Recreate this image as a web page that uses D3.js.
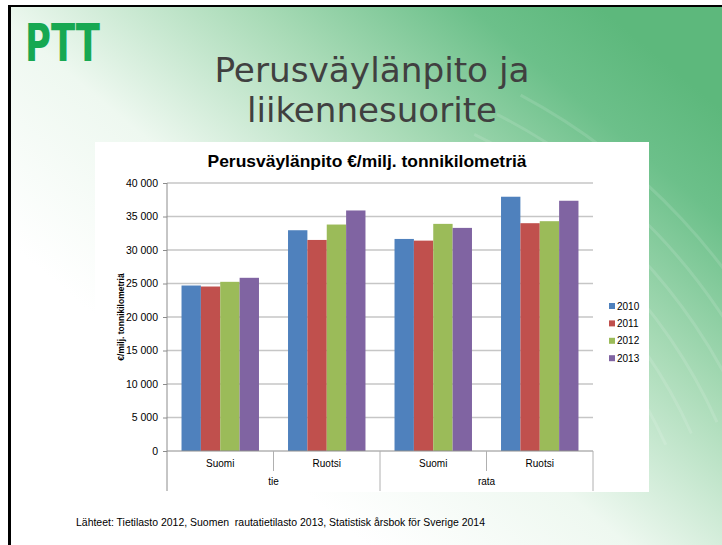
<!DOCTYPE html>
<html>
<head>
<meta charset="utf-8">
<script src="https://cdn.jsdelivr.net/npm/d3@7"></script>
<style>
    body { margin: 0; background: #fff; }
    svg { display: block; }
    text { font-family: "Liberation Sans", Arial, sans-serif; }
</style>
</head>
<body>
<div id="slide"></div>
<script>
// Chart data
const years = ['2010', '2011', '2012', '2013']
const modes = ['tie', 'rata']
const countries = ['Suomi', 'Ruotsi']
const values2010 = [24700, 32950, 31650, 37950]
const values2011 = [24550, 31500, 31400, 34000]
const values2012 = [25250, 33800, 33900, 34300]
const values2013 = [25850, 35900, 33300, 37350]
const yTicks = [0, 5000, 10000, 15000, 20000, 25000, 30000, 35000, 40000]
const colors = ['#4f81bd', '#c0504d', '#9bbb59', '#8064a2']

const seriesValues = [values2010, values2011, values2012, values2013]

// groups = mode x country, in slide order
const groups = []
modes.forEach(m => countries.forEach(c => groups.push(m + '|' + c)))

const width = 722
const height = 545

const svg = d3.select('#slide').append('svg')
    .attr('width', width)
    .attr('height', height)

// Background gradient
const defs = svg.append('defs')
const grad = defs.append('linearGradient')
    .attr('id', 'bg')
    .attr('x1', '0.28').attr('y1', '0.75')
    .attr('x2', '0.95').attr('y2', '0.15')
grad.append('stop').attr('offset', '0').attr('stop-color', '#ffffff')
grad.append('stop').attr('offset', '0.3').attr('stop-color', '#eef8f0')
grad.append('stop').attr('offset', '0.6').attr('stop-color', '#a9dbb7')
grad.append('stop').attr('offset', '0.85').attr('stop-color', '#6cc08a')
grad.append('stop').attr('offset', '1').attr('stop-color', '#5db87c')

// Slide frame
svg.append('rect')
    .attr('x', 8).attr('y', 5)
    .attr('width', width).attr('height', height)
    .attr('fill', '#000')
svg.append('rect')
    .attr('x', 11).attr('y', 7)
    .attr('width', width).attr('height', height)
    .attr('fill', 'url(#bg)')

// Faint swirl streaks
const arcs = svg.append('g')
d3.range(8).forEach(i => {
    const r = 420 + i * 28
    arcs.append('path')
        .attr('d', d3.arc()({innerRadius: r, outerRadius: r + 3,
            startAngle: 0.35 + i * 0.02, endAngle: 1.15}))
        .attr('transform', 'translate(230,640)')
        .attr('fill', '#ffffff')
        .attr('opacity', 0.12)
})

// Logo
svg.append('text')
    .attr('x', 25).attr('y', 61)
    .attr('textLength', 75)
    .attr('lengthAdjust', 'spacingAndGlyphs')
    .style('font-family', '"DejaVu Sans", sans-serif')
    .style('font-weight', 'bold')
    .style('font-size', '52px')
    .style('fill', '#17a852')
    .text('PTT')

// Slide title
const titleLines = ['Perusväylänpito ja', 'liikennesuorite']
const titleWidths = [315, 250]
svg.selectAll('.slide-title')
    .data(titleLines)
    .enter()
    .append('text')
    .classed('slide-title', true)
    .attr('x', 372)
    .attr('y', (_, i) => 82 + i * 40)
    .attr('text-anchor', 'middle')
    .attr('textLength', (_, i) => titleWidths[i])
    .attr('lengthAdjust', 'spacingAndGlyphs')
    .style('font-family', '"DejaVu Sans Condensed", "DejaVu Sans", sans-serif')
    .style('font-size', '33px')
    .style('fill', '#404040')
    .text(d => d)

// Chart box
svg.append('rect')
    .attr('x', 95).attr('y', 142)
    .attr('width', 649 - 95).attr('height', 492 - 142)
    .attr('fill', '#fff')

svg.append('text')
    .attr('x', 367).attr('y', 167)
    .attr('text-anchor', 'middle')
    .attr('textLength', 319)
    .attr('lengthAdjust', 'spacingAndGlyphs')
    .style('font-weight', 'bold')
    .style('font-size', '17px')
    .style('fill', '#000')
    .text('Perusväylänpito €/milj. tonnikilometriä')

// Scales
const plotLeft = 167, plotRight = 593, plotTop = 183, plotBottom = 451

const xScale = d3.scaleBand()
    .domain(groups)
    .range([plotLeft, plotRight])

const xInner = d3.scaleBand()
    .domain(years)
    .range([0, xScale.bandwidth()])
    .paddingInner(0)
    .paddingOuter(0.75)

const yScale = d3.scaleLinear()
    .domain([0, 40000])
    .range([plotBottom, plotTop])

const fmt = d3.formatLocale({decimal: ',', thousands: ' ', grouping: [3], currency: ['', '€']}).format(',d')

// Gridlines
svg.append('g')
    .selectAll('line')
    .data(yTicks.filter(d => d > 0))
    .enter()
    .append('line')
    .attr('x1', plotLeft).attr('x2', plotRight)
    .attr('y1', d => yScale(d)).attr('y2', d => yScale(d))
    .style('stroke', '#c6c6c6')
    .style('stroke-width', 1.5)

// Y axis
const yAxis = d3.axisLeft(yScale)
    .tickValues(yTicks)
    .tickFormat(fmt)
    .tickSize(4)
    .tickPadding(5)

const yAxisG = svg.append('g')
    .attr('transform', 'translate(' + plotLeft + ',0)')
    .call(yAxis)
yAxisG.select('.domain').remove()
yAxisG.selectAll('.tick line').style('stroke', '#8c8c8c')
yAxisG.selectAll('.tick text')
    .style('font-family', '"Liberation Sans", Arial, sans-serif')
    .style('font-size', '10.5px')
    .style('fill', '#000')

svg.append('line')
    .attr('x1', plotLeft).attr('x2', plotLeft)
    .attr('y1', plotTop).attr('y2', 491)
    .style('stroke', '#8c8c8c')

svg.append('text')
    .attr('transform', 'translate(121,' + ((plotTop + plotBottom) / 2) + ') rotate(-90)')
    .attr('text-anchor', 'middle')
    .attr('dy', '0.35em')
    .style('font-weight', 'bold')
    .style('font-size', '8.5px')
    .style('fill', '#000')
    .text('€/milj. tonnikilometriä')

// Bars
const barGroups = svg.append('g')
    .selectAll('g')
    .data(years)
    .enter()
    .append('g')
    .style('fill', (_, i) => colors[i])

barGroups.selectAll('rect')
    .data((_, i) => seriesValues[i].map((v, j) => ({year: years[i], group: groups[j], value: v})))
    .enter()
    .append('rect')
    .attr('x', d => xScale(d.group) + xInner(d.year))
    .attr('y', d => yScale(d.value))
    .attr('width', xInner.bandwidth())
    .attr('height', d => plotBottom - yScale(d.value))

// X axis with two-level categories
svg.append('line')
    .attr('x1', plotLeft).attr('x2', plotRight)
    .attr('y1', plotBottom).attr('y2', plotBottom)
    .style('stroke', '#8c8c8c')

// short dividers between countries
svg.append('g')
    .selectAll('line')
    .data(modes)
    .enter()
    .append('line')
    .attr('x1', d => xScale(d + '|' + countries[1]))
    .attr('x2', d => xScale(d + '|' + countries[1]))
    .attr('y1', plotBottom).attr('y2', 471)
    .style('stroke', '#b0b0b0')

// long dividers between modes
svg.append('g')
    .selectAll('line')
    .data(modes.slice(1).concat(['end']))
    .enter()
    .append('line')
    .attr('x1', d => d === 'end' ? plotRight : xScale(d + '|' + countries[0]))
    .attr('x2', d => d === 'end' ? plotRight : xScale(d + '|' + countries[0]))
    .attr('y1', plotBottom).attr('y2', 491)
    .style('stroke', '#b0b0b0')

svg.append('g')
    .selectAll('text')
    .data(groups)
    .enter()
    .append('text')
    .attr('x', d => xScale(d) + xScale.bandwidth() / 2)
    .attr('y', 467)
    .attr('text-anchor', 'middle')
    .style('font-size', '10px')
    .style('fill', '#000')
    .text(d => d.split('|')[1])

svg.append('g')
    .selectAll('text')
    .data(modes)
    .enter()
    .append('text')
    .attr('x', d => xScale(d + '|' + countries[0]) + xScale.bandwidth())
    .attr('y', 485)
    .attr('text-anchor', 'middle')
    .style('font-size', '10px')
    .style('fill', '#000')
    .text(d => d)

// Legend
const legend = svg.append('g')
    .selectAll('g')
    .data(years)
    .enter()
    .append('g')
    .attr('transform', (_, i) => 'translate(609,' + (306 + i * 17.4) + ')')

legend.append('rect')
    .attr('x', 0).attr('y', -3)
    .attr('width', 6).attr('height', 6)
    .style('fill', (_, i) => colors[i])

legend.append('text')
    .attr('x', 8).attr('dy', '0.35em')
    .style('font-size', '10px')
    .style('fill', '#000')
    .text(d => d)

// Source
svg.append('text')
    .attr('x', 76).attr('y', 526)
    .attr('textLength', 409)
    .attr('lengthAdjust', 'spacingAndGlyphs')
    .style('font-size', '10.5px')
    .style('fill', '#000')
    .style('white-space', 'pre')
    .text('Lähteet: Tietilasto 2012, Suomen  rautatietilasto 2013, Statistisk årsbok för Sverige 2014')
</script>
</body>
</html>
